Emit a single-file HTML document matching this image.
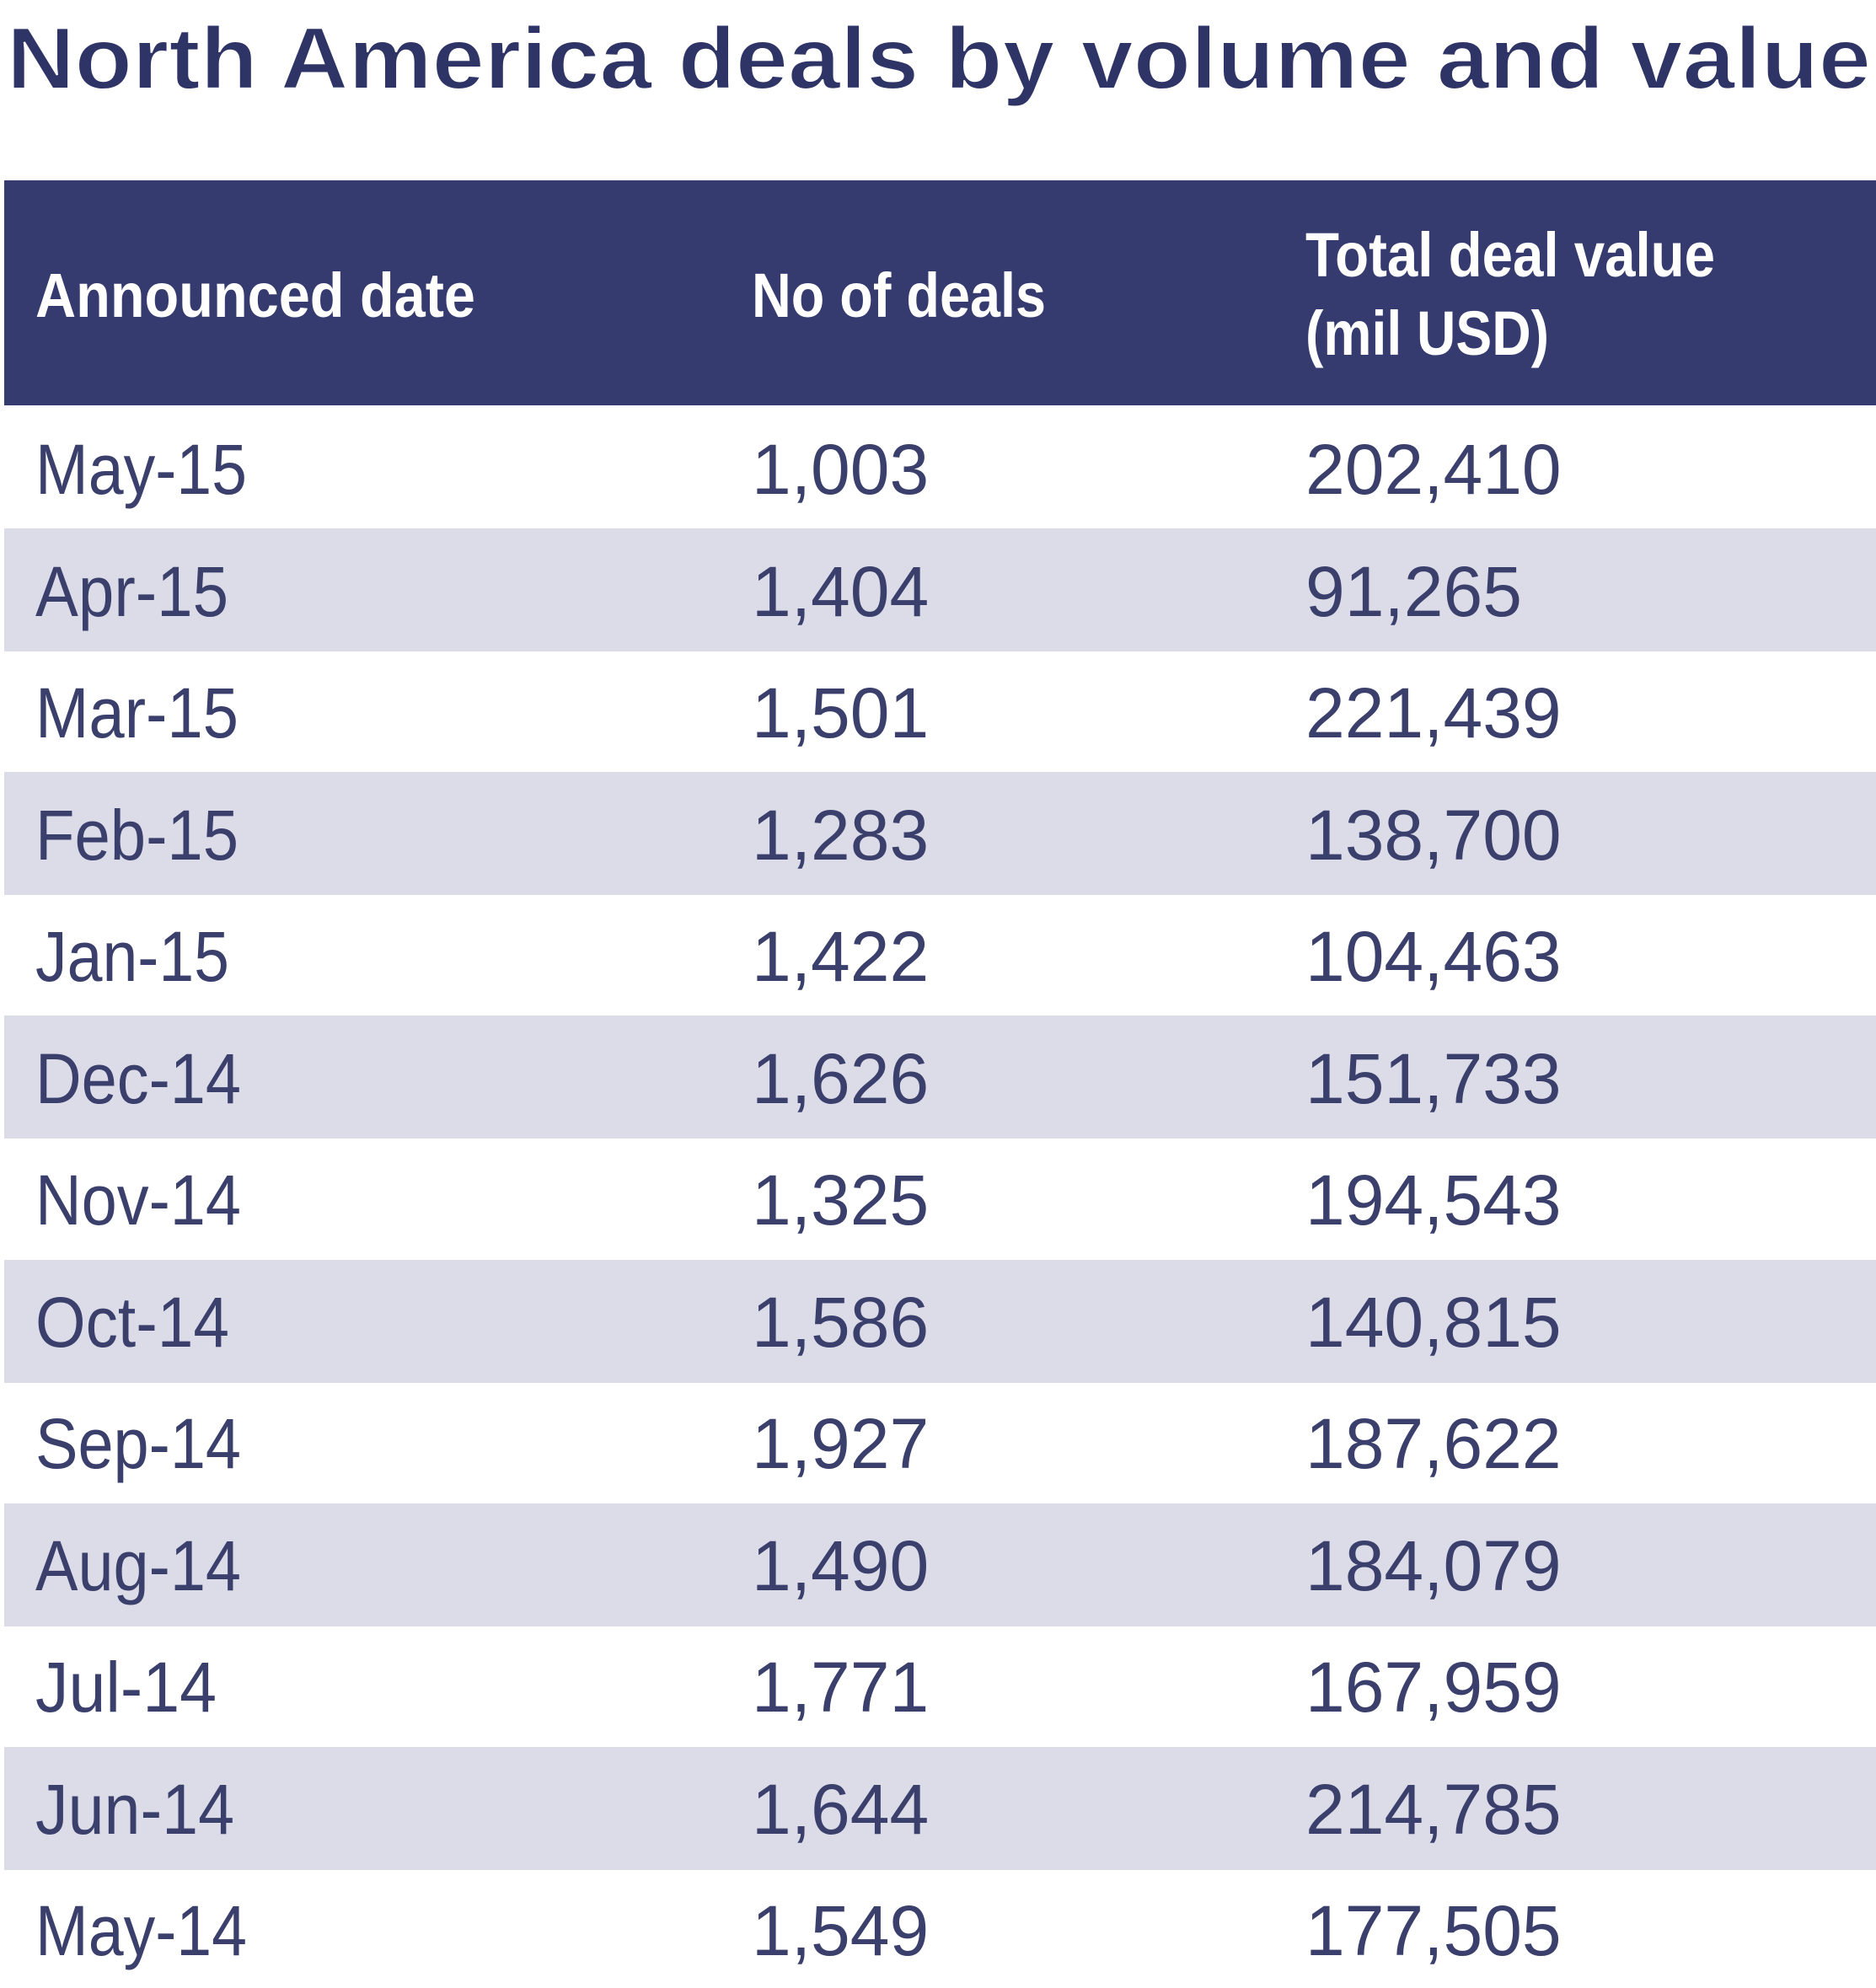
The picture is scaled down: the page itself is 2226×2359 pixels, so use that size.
<!DOCTYPE html>
<html><head><meta charset="utf-8"><style>
html,body{margin:0;padding:0;background:#fff;}
svg{display:block;}
</style></head><body>
<svg width="2226" height="2359" viewBox="0 0 2226 2359" xmlns="http://www.w3.org/2000/svg">
<rect width="2226" height="2359" fill="#fff"/>
<text x="8" y="105" font-family="Liberation Sans, sans-serif" font-size="104" font-weight="bold" fill="#2f3466" stroke="#fff" stroke-width="2" textLength="2212" lengthAdjust="spacingAndGlyphs">North America deals by volume and value</text>
<rect x="5" y="214" width="2221" height="267" fill="#353a6f"/>
<g font-family="Liberation Sans, sans-serif" font-size="74" font-weight="bold" fill="#fff">
<text x="42" y="376" textLength="522" lengthAdjust="spacingAndGlyphs">Announced date</text>
<text x="892" y="376" textLength="349" lengthAdjust="spacingAndGlyphs">No of deals</text>
<text x="1549" y="328" textLength="486" lengthAdjust="spacingAndGlyphs">Total deal value</text>
<text x="1549" y="421" textLength="289" lengthAdjust="spacingAndGlyphs">(mil USD)</text>
</g>
<g fill="#dcdce8">
<rect x="5" y="627" width="2221" height="146"/>
<rect x="5" y="916" width="2221" height="146"/>
<rect x="5" y="1205" width="2221" height="146"/>
<rect x="5" y="1495" width="2221" height="146"/>
<rect x="5" y="1784" width="2221" height="146"/>
<rect x="5" y="2073" width="2221" height="146"/>
</g>
<g font-family="Liberation Sans, sans-serif" font-size="84" fill="#3a3f6c">
<text x="42" y="586" textLength="251" lengthAdjust="spacingAndGlyphs">May-15</text><text x="892" y="586">1,003</text><text x="1549" y="586">202,410</text>
<text x="42" y="731" textLength="229" lengthAdjust="spacingAndGlyphs">Apr-15</text><text x="892" y="731">1,404</text><text x="1549" y="731">91,265</text>
<text x="42" y="875" textLength="241" lengthAdjust="spacingAndGlyphs">Mar-15</text><text x="892" y="875">1,501</text><text x="1549" y="875">221,439</text>
<text x="42" y="1020" textLength="241" lengthAdjust="spacingAndGlyphs">Feb-15</text><text x="892" y="1020">1,283</text><text x="1549" y="1020">138,700</text>
<text x="42" y="1164" textLength="230" lengthAdjust="spacingAndGlyphs">Jan-15</text><text x="892" y="1164">1,422</text><text x="1549" y="1164">104,463</text>
<text x="42" y="1309" textLength="244" lengthAdjust="spacingAndGlyphs">Dec-14</text><text x="892" y="1309">1,626</text><text x="1549" y="1309">151,733</text>
<text x="42" y="1453" textLength="244" lengthAdjust="spacingAndGlyphs">Nov-14</text><text x="892" y="1453">1,325</text><text x="1549" y="1453">194,543</text>
<text x="42" y="1598" textLength="230" lengthAdjust="spacingAndGlyphs">Oct-14</text><text x="892" y="1598">1,586</text><text x="1549" y="1598">140,815</text>
<text x="42" y="1742" textLength="244" lengthAdjust="spacingAndGlyphs">Sep-14</text><text x="892" y="1742">1,927</text><text x="1549" y="1742">187,622</text>
<text x="42" y="1887" textLength="244" lengthAdjust="spacingAndGlyphs">Aug-14</text><text x="892" y="1887">1,490</text><text x="1549" y="1887">184,079</text>
<text x="42" y="2031" textLength="215" lengthAdjust="spacingAndGlyphs">Jul-14</text><text x="892" y="2031">1,771</text><text x="1549" y="2031">167,959</text>
<text x="42" y="2176" textLength="236" lengthAdjust="spacingAndGlyphs">Jun-14</text><text x="892" y="2176">1,644</text><text x="1549" y="2176">214,785</text>
<text x="42" y="2320" textLength="251" lengthAdjust="spacingAndGlyphs">May-14</text><text x="892" y="2320">1,549</text><text x="1549" y="2320">177,505</text>
</g>
</svg>
</body></html>
